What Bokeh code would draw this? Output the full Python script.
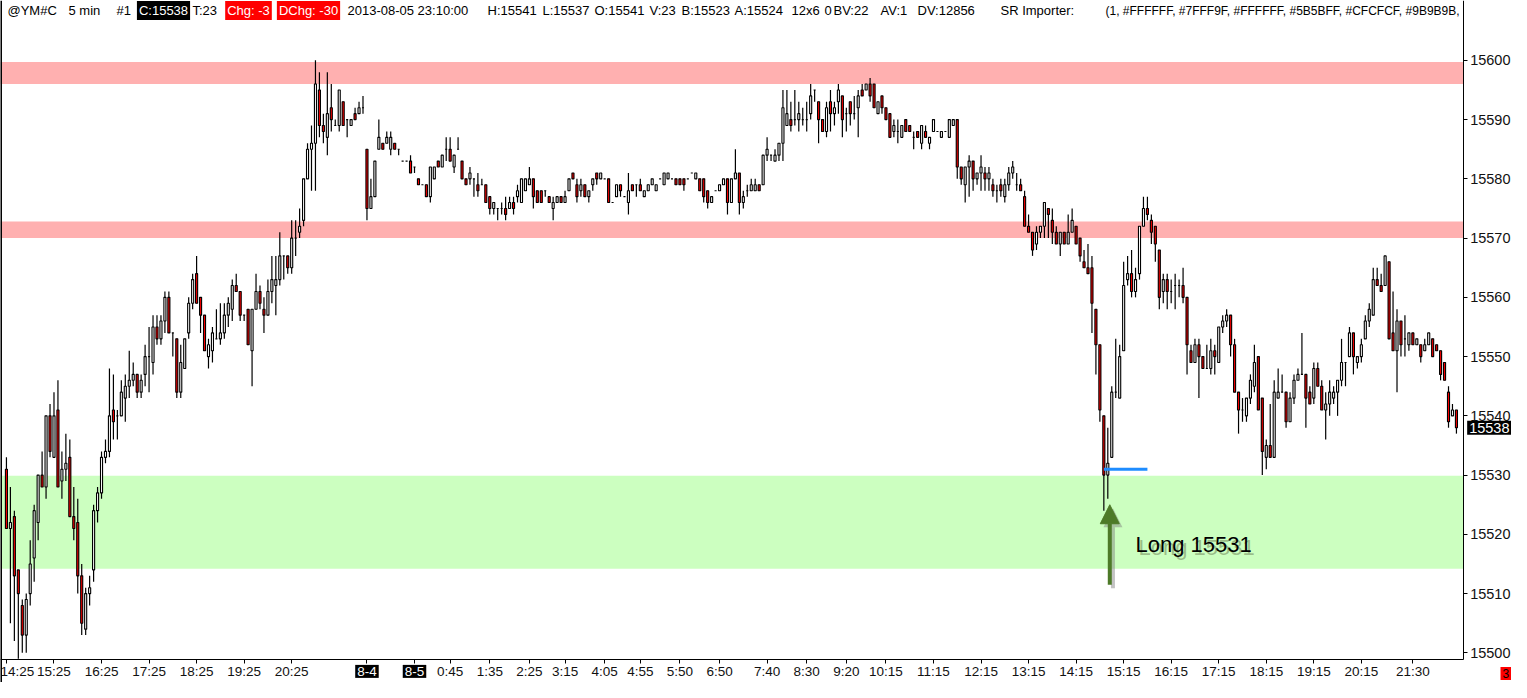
from bokeh.plotting import figure
from bokeh.models import (ColumnDataSource, BoxAnnotation, Label, Arrow, NormalHead,
                          FixedTicker, Range1d, Span)
from bokeh.embed import file_html
from bokeh.resources import INLINE

# ---------------- data (5-min bars, @YM#C) ----------------
opens = [
    15531, 15521, 15523, 15514, 15508, 15503, 15510, 15516, 15522, 15530,
    15528, 15540, 15533, 15541, 15529, 15531, 15533, 15523, 15522, 15513,
    15504, 15510, 15514, 15524, 15527, 15533, 15534, 15541, 15540, 15540,
    15543, 15545, 15546, 15547, 15544, 15547, 15550, 15549, 15555, 15553,
    15556, 15560, 15554, 15553, 15544, 15548, 15554, 15559, 15564, 15560,
    15557, 15550, 15551, 15553, 15553, 15554, 15557, 15558, 15562, 15561,
    15557, 15558, 15551, 15558, 15561, 15558, 15557, 15561, 15562, 15563,
    15567, 15567, 15565, 15570, 15571, 15573, 15580, 15585, 15586, 15595,
    15589, 15587, 15592, 15589, 15589, 15593, 15590, 15589, 15591, 15591,
    15592, 15585, 15575, 15577, 15585, 15586, 15586, 15585, 15586, 15585,
    15583, 15583, 15583, 15582, 15580, 15579, 15579, 15577, 15580, 15583,
    15582, 15585, 15585, 15582, 15585, 15583, 15580, 15580, 15580, 15579,
    15579, 15579, 15577, 15575, 15575, 15575, 15575, 15575, 15576, 15577,
    15576, 15578, 15579, 15580, 15578, 15578, 15578, 15577, 15575, 15576,
    15577, 15576, 15578, 15581, 15579, 15578, 15579, 15577, 15579, 15581,
    15580, 15580, 15580, 15576, 15577, 15579, 15577, 15576, 15579, 15579,
    15579, 15577, 15578, 15579, 15578, 15580, 15579, 15580, 15580, 15580,
    15580, 15580, 15580, 15581, 15580, 15580, 15580, 15578, 15576, 15578,
    15578, 15579, 15580, 15576, 15580, 15581, 15576, 15578, 15578, 15578,
    15579, 15579, 15584, 15584, 15583, 15584, 15586, 15589, 15590, 15590,
    15590, 15590, 15590, 15591, 15595, 15593, 15590, 15588, 15593, 15591,
    15593, 15594, 15591, 15593, 15591, 15592, 15595, 15595, 15596, 15596,
    15591, 15594, 15592, 15591, 15588, 15588, 15587, 15590, 15589, 15587,
    15588, 15586, 15588, 15586, 15588, 15588, 15587, 15588, 15587, 15589,
    15590, 15582, 15579, 15582, 15583, 15580, 15581, 15581, 15580, 15579,
    15578, 15579, 15577, 15579, 15581, 15579, 15579, 15577, 15572, 15571,
    15569, 15571, 15572, 15575, 15573, 15571, 15569, 15571, 15569, 15571,
    15572, 15570, 15566, 15565, 15565, 15558, 15552, 15540, 15530, 15533,
    15544, 15543, 15551, 15563, 15564, 15561, 15564, 15572, 15575, 15573,
    15572, 15568, 15561, 15563, 15561, 15562, 15562, 15562, 15560, 15551,
    15549, 15552, 15550, 15548, 15548, 15551, 15549, 15555, 15556, 15557,
    15552, 15544, 15541, 15540, 15543, 15545, 15550, 15543, 15533, 15535,
    15533, 15543, 15544, 15544, 15539, 15543, 15546, 15547, 15547, 15544,
    15543, 15548, 15545, 15541, 15542, 15543, 15544, 15546, 15549, 15550,
    15554, 15549, 15550, 15553, 15556, 15557, 15563, 15562, 15562, 15566,
    15554, 15551, 15556, 15553, 15552, 15554, 15552, 15552, 15551, 15552,
    15553, 15552, 15551, 15549, 15544, 15540, 15541,
]
highs = [
    15533, 15528, 15524, 15514, 15509, 15510, 15519, 15525, 15530, 15534,
    15540, 15542, 15544, 15546, 15534, 15537, 15536, 15528, 15526, 15515,
    15511, 15513, 15525, 15528, 15534, 15536, 15548, 15547, 15541, 15546,
    15547, 15551, 15549, 15547, 15547, 15552, 15555, 15557, 15557, 15557,
    15561, 15561, 15554, 15553, 15552, 15553, 15560, 15564, 15567, 15560,
    15557, 15553, 15555, 15558, 15559, 15559, 15560, 15563, 15564, 15561,
    15557, 15558, 15558, 15564, 15562, 15560, 15563, 15567, 15567, 15571,
    15567, 15567, 15573, 15573, 15575, 15580, 15586, 15589, 15600, 15598,
    15591, 15598, 15596, 15590, 15595, 15593, 15590, 15590, 15592, 15593,
    15594, 15585, 15580, 15583, 15590, 15586, 15588, 15588, 15586, 15585,
    15583, 15583, 15584, 15582, 15580, 15579, 15579, 15582, 15582, 15583,
    15584, 15587, 15587, 15584, 15587, 15583, 15580, 15582, 15580, 15581,
    15580, 15579, 15577, 15576, 15575, 15576, 15577, 15577, 15577, 15579,
    15580, 15580, 15582, 15580, 15578, 15578, 15578, 15577, 15577, 15577,
    15577, 15578, 15580, 15581, 15580, 15580, 15579, 15578, 15580, 15581,
    15581, 15580, 15580, 15576, 15579, 15579, 15577, 15581, 15579, 15579,
    15580, 15578, 15579, 15580, 15579, 15580, 15581, 15581, 15580, 15580,
    15580, 15580, 15580, 15581, 15581, 15580, 15580, 15578, 15577, 15578,
    15579, 15580, 15580, 15580, 15585, 15581, 15578, 15579, 15580, 15580,
    15579, 15584, 15587, 15584, 15585, 15586, 15595, 15595, 15593, 15595,
    15593, 15592, 15593, 15596, 15595, 15593, 15590, 15593, 15595, 15593,
    15596, 15594, 15592, 15593, 15594, 15595, 15596, 15596, 15597, 15596,
    15593, 15594, 15592, 15591, 15590, 15590, 15589, 15590, 15589, 15588,
    15588, 15589, 15589, 15587, 15590, 15588, 15588, 15588, 15590, 15590,
    15590, 15582, 15582, 15584, 15583, 15581, 15584, 15582, 15582, 15580,
    15579, 15580, 15580, 15582, 15583, 15581, 15580, 15578, 15574, 15571,
    15572, 15572, 15576, 15575, 15575, 15572, 15571, 15571, 15574, 15575,
    15572, 15570, 15568, 15569, 15567, 15558, 15552, 15540, 15538, 15545,
    15553, 15552, 15566, 15567, 15568, 15565, 15572, 15577, 15577, 15574,
    15572, 15568, 15564, 15564, 15563, 15564, 15563, 15565, 15560, 15552,
    15553, 15553, 15550, 15552, 15553, 15552, 15555, 15557, 15558, 15557,
    15553, 15544, 15543, 15543, 15547, 15552, 15550, 15543, 15536, 15542,
    15546, 15548, 15547, 15544, 15544, 15547, 15548, 15554, 15547, 15545,
    15549, 15549, 15546, 15544, 15546, 15545, 15546, 15553, 15549, 15555,
    15554, 15550, 15553, 15557, 15559, 15565, 15565, 15564, 15567, 15566,
    15561, 15558, 15556, 15557, 15554, 15554, 15553, 15552, 15553, 15554,
    15553, 15552, 15551, 15549, 15545, 15542, 15541,
]
lows = [
    15521, 15505, 15502, 15499, 15500, 15500, 15508, 15512, 15519, 15528,
    15526, 15533, 15533, 15528, 15526, 15529, 15523, 15519, 15510, 15503,
    15503, 15508, 15512, 15522, 15526, 15532, 15533, 15536, 15536, 15540,
    15539, 15543, 15545, 15543, 15543, 15545, 15544, 15547, 15552, 15552,
    15554, 15554, 15550, 15543, 15543, 15548, 15553, 15558, 15559, 15554,
    15551, 15548, 15549, 15553, 15552, 15553, 15555, 15556, 15561, 15556,
    15556, 15552, 15545, 15558, 15558, 15554, 15557, 15559, 15557, 15562,
    15563, 15564, 15564, 15567, 15570, 15572, 15580, 15578, 15578, 15587,
    15586, 15584, 15588, 15589, 15588, 15589, 15587, 15589, 15590, 15591,
    15591, 15573, 15575, 15577, 15585, 15585, 15586, 15584, 15585, 15584,
    15583, 15583, 15581, 15581, 15579, 15579, 15577, 15576, 15580, 15582,
    15582, 15583, 15583, 15581, 15585, 15580, 15579, 15579, 15577, 15577,
    15579, 15576, 15574, 15574, 15573, 15574, 15573, 15575, 15574, 15576,
    15576, 15578, 15579, 15575, 15576, 15576, 15577, 15576, 15573, 15576,
    15576, 15576, 15578, 15580, 15576, 15577, 15577, 15576, 15578, 15579,
    15580, 15580, 15576, 15576, 15577, 15577, 15577, 15574, 15578, 15577,
    15578, 15577, 15578, 15579, 15578, 15580, 15579, 15580, 15580, 15579,
    15579, 15578, 15580, 15581, 15580, 15578, 15576, 15575, 15576, 15578,
    15578, 15579, 15574, 15576, 15580, 15574, 15575, 15577, 15578, 15578,
    15578, 15579, 15583, 15583, 15583, 15583, 15583, 15589, 15588, 15589,
    15588, 15589, 15588, 15590, 15593, 15586, 15588, 15587, 15588, 15589,
    15591, 15587, 15588, 15589, 15590, 15587, 15594, 15595, 15593, 15592,
    15591, 15591, 15590, 15587, 15587, 15586, 15587, 15588, 15588, 15585,
    15587, 15585, 15587, 15585, 15588, 15588, 15587, 15588, 15587, 15589,
    15580, 15579, 15576, 15577, 15578, 15579, 15578, 15578, 15578, 15577,
    15576, 15577, 15576, 15578, 15580, 15578, 15578, 15572, 15571, 15567,
    15568, 15570, 15570, 15570, 15569, 15569, 15567, 15569, 15569, 15571,
    15569, 15566, 15565, 15564, 15554, 15547, 15539, 15524, 15526, 15533,
    15543, 15543, 15551, 15562, 15560, 15560, 15563, 15572, 15573, 15569,
    15566, 15558, 15559, 15558, 15559, 15558, 15560, 15559, 15547, 15549,
    15549, 15543, 15548, 15548, 15547, 15547, 15549, 15554, 15555, 15550,
    15544, 15537, 15539, 15539, 15542, 15544, 15541, 15530, 15531, 15533,
    15533, 15543, 15544, 15538, 15539, 15542, 15546, 15547, 15538, 15542,
    15542, 15545, 15541, 15536, 15540, 15542, 15540, 15545, 15545, 15550,
    15547, 15548, 15549, 15553, 15555, 15557, 15562, 15561, 15562, 15553,
    15551, 15544, 15550, 15550, 15551, 15552, 15552, 15549, 15551, 15552,
    15550, 15551, 15546, 15546, 15538, 15540, 15537,
]
closes = [
    15521, 15522, 15513, 15510, 15503, 15509, 15515, 15524, 15530, 15528,
    15540, 15534, 15540, 15528, 15531, 15532, 15523, 15521, 15513, 15505,
    15510, 15511, 15524, 15527, 15533, 15534, 15540, 15539, 15540, 15544,
    15545, 15546, 15547, 15544, 15546, 15550, 15550, 15555, 15553, 15556,
    15560, 15554, 15554, 15544, 15549, 15553, 15559, 15563, 15559, 15557,
    15551, 15552, 15554, 15553, 15554, 15557, 15559, 15562, 15561, 15557,
    15557, 15552, 15558, 15561, 15559, 15557, 15561, 15563, 15563, 15567,
    15567, 15565, 15570, 15570, 15572, 15580, 15585, 15586, 15596, 15589,
    15588, 15591, 15590, 15589, 15595, 15589, 15590, 15590, 15590, 15592,
    15592, 15575, 15577, 15583, 15587, 15585, 15587, 15587, 15585, 15585,
    15583, 15583, 15581, 15582, 15579, 15579, 15577, 15582, 15582, 15582,
    15584, 15585, 15583, 15584, 15585, 15580, 15579, 15581, 15580, 15578,
    15579, 15576, 15575, 15576, 15575, 15575, 15574, 15576, 15575, 15578,
    15580, 15580, 15580, 15577, 15576, 15576, 15578, 15576, 15576, 15577,
    15576, 15577, 15580, 15580, 15577, 15579, 15577, 15578, 15580, 15580,
    15581, 15580, 15576, 15576, 15579, 15578, 15577, 15578, 15578, 15579,
    15578, 15578, 15579, 15580, 15579, 15580, 15581, 15581, 15580, 15579,
    15579, 15579, 15580, 15581, 15581, 15578, 15577, 15576, 15577, 15578,
    15579, 15580, 15576, 15580, 15581, 15576, 15577, 15578, 15579, 15579,
    15578, 15584, 15585, 15584, 15584, 15586, 15592, 15591, 15589, 15590,
    15591, 15590, 15590, 15594, 15595, 15590, 15588, 15592, 15591, 15592,
    15595, 15590, 15591, 15591, 15591, 15594, 15594, 15596, 15594, 15592,
    15593, 15592, 15590, 15587, 15589, 15588, 15589, 15588, 15588, 15587,
    15587, 15589, 15587, 15587, 15590, 15588, 15588, 15588, 15590, 15590,
    15582, 15580, 15582, 15583, 15580, 15581, 15582, 15580, 15581, 15578,
    15578, 15578, 15579, 15581, 15582, 15579, 15578, 15572, 15571, 15568,
    15571, 15572, 15576, 15574, 15571, 15569, 15571, 15569, 15571, 15573,
    15569, 15567, 15565, 15564, 15559, 15552, 15541, 15530, 15532, 15544,
    15544, 15550, 15562, 15564, 15561, 15563, 15572, 15575, 15574, 15571,
    15569, 15560, 15563, 15561, 15561, 15562, 15562, 15560, 15552, 15549,
    15552, 15550, 15548, 15548, 15551, 15550, 15555, 15556, 15557, 15552,
    15544, 15541, 15541, 15543, 15546, 15549, 15541, 15534, 15535, 15533,
    15544, 15544, 15544, 15539, 15543, 15546, 15547, 15547, 15543, 15542,
    15548, 15545, 15541, 15542, 15544, 15544, 15546, 15549, 15549, 15554,
    15550, 15550, 15552, 15556, 15558, 15563, 15562, 15561, 15567, 15553,
    15551, 15556, 15552, 15553, 15554, 15552, 15553, 15550, 15552, 15554,
    15550, 15551, 15547, 15546, 15539, 15541, 15538,
]

tick_bars = [0, 12, 24, 36, 48, 60, 72, 91, 103, 112, 122, 132, 141, 151, 160,
             170, 180, 192, 202, 212, 222, 234, 246, 258, 270, 282, 294, 306,
             318, 330, 342, 355]
tick_labels = ["14:25", "15:25", "16:25", "17:25", "18:25", "19:25", "20:25",
               "8-4", "8-5", "0:45", "1:35", "2:25", "3:15", "4:05", "4:55",
               "5:50", "6:50", "7:40", "8:30", "9:20", "10:15", "11:15",
               "12:15", "13:15", "14:15", "15:15", "16:15", "17:15", "18:15",
               "19:15", "20:15", "21:30"]
date_labels = ["8-4", "8-5"]
price_ticks = [15500, 15510, 15520, 15530, 15540, 15550, 15560, 15570, 15580, 15590, 15600]

resistance_zones = [(15596.0, 15599.7), (15570.0, 15572.8)]
support_zones = [(15514.2, 15529.9)]

entry_price = 15531
entry_bar = 277
entry_line_end = 288
last_price = 15538
note_text = "Long 15531"

# ---------------- layout constants ----------------
# full canvas is the frame; the axes are drawn at fixed positions inside it
X0, X_AXIS, X1 = -1.5, 367.7, 379.9
Y0, Y_AXIS, Y1 = 15495.0, 15498.9, 15610.1
FONT = "Liberation Sans"

n = min(len(opens), len(highs), len(lows), len(closes))
idx = list(range(n))
src = ColumnDataSource(dict(
    x=idx,
    h=highs[:n], l=lows[:n],
    top=[max(o, c) for o, c in zip(opens[:n], closes[:n])],
    bottom=[min(o, c) for o, c in zip(opens[:n], closes[:n])],
    fill=["white" if c >= o else "#ff0000" for o, c in zip(opens[:n], closes[:n])],
))

p = figure(width=1511, height=682, output_backend="svg", toolbar_location=None,
           x_range=Range1d(X0, X1), y_range=Range1d(Y0, Y1),
           y_axis_location="right", min_border_left=0, min_border_top=0,
           min_border_bottom=0, min_border_right=0)
p.background_fill_color = "white"
p.border_fill_color = "white"
p.outline_line_color = None
p.xgrid.visible = False
p.ygrid.visible = False

# zones (end at the price axis)
for b, t in resistance_zones:
    p.add_layout(BoxAnnotation(bottom=b, top=t, right=X_AXIS, fill_color="#ffb0b0",
                               fill_alpha=1.0, line_color=None, level="underlay"))
for b, t in support_zones:
    p.add_layout(BoxAnnotation(bottom=b, top=t, right=X_AXIS, fill_color="#ccffc0",
                               fill_alpha=1.0, line_color=None, level="underlay"))

# left border of the chart area
p.add_layout(Span(location=X0, dimension="height", line_color="black", line_width=3))

# candles
p.segment(x0="x", y0="l", x1="x", y1="h", source=src, line_color="black", line_width=1.2)
p.vbar(x="x", width=0.52, top="top", bottom="bottom", source=src,
       fill_color="fill", line_color="black", line_width=1.1)

# entry line
p.segment(x0=[entry_bar], y0=[entry_price], x1=[entry_line_end], y1=[entry_price],
          line_color="#1e8cff", line_width=3)

# arrow (shadow + arrow)
arrow_x = entry_bar + 1.5
arrow_tip = 15525.0
arrow_tail = 15511.5
p.add_layout(Arrow(end=NormalHead(size=19, fill_color="#7a7a7a", fill_alpha=0.45, line_color=None),
                   x_start=arrow_x + 0.8, y_start=arrow_tail - 0.6,
                   x_end=arrow_x + 0.8, y_end=arrow_tip - 0.6,
                   line_color="#7a7a7a", line_alpha=0.45, line_width=4))
p.add_layout(Arrow(end=NormalHead(size=19, fill_color="#4d7a28", line_color="#4d7a28", line_width=1),
                   x_start=arrow_x, y_start=arrow_tail, x_end=arrow_x, y_end=arrow_tip,
                   line_color="#4d7a28", line_width=4))

# note text with shadow
note_x = entry_bar + 8
note_y = 15518.3
p.add_layout(Label(x=note_x, y=note_y, x_offset=3, y_offset=-3, text=note_text,
                   text_font=FONT, text_font_size="22px", text_baseline="middle",
                   text_color="#5a6a40", text_alpha=0.45))
p.add_layout(Label(x=note_x, y=note_y, text=note_text, text_font=FONT,
                   text_font_size="22px", text_baseline="middle", text_color="black"))

# axes at fixed positions
p.yaxis.fixed_location = X_AXIS
p.yaxis.bounds = (Y_AXIS, Y1)
p.yaxis.axis_label = None
p.yaxis.ticker = FixedTicker(ticks=price_ticks)
p.yaxis.major_label_text_font = FONT
p.yaxis.major_label_text_font_size = "14.5px"
p.yaxis.major_label_text_color = "#111111"
p.yaxis.major_tick_out = 4
p.yaxis.major_tick_in = 0
p.yaxis.minor_tick_out = 0
p.yaxis.minor_tick_in = 0
p.yaxis.major_label_standoff = 3
p.yaxis.axis_line_color = "black"

p.xaxis.fixed_location = Y_AXIS
p.xaxis.bounds = (X0, X_AXIS)
p.xaxis.axis_label = None
p.xaxis.ticker = FixedTicker(ticks=tick_bars)
p.xaxis.major_label_overrides = {b: ("" if lbl in date_labels else lbl)
                                 for b, lbl in zip(tick_bars, tick_labels)}
p.xaxis.major_label_text_font = FONT
p.xaxis.major_label_text_font_size = "13.5px"
p.xaxis.major_label_text_color = "#111111"
p.xaxis.major_tick_out = 4
p.xaxis.major_tick_in = 0
p.xaxis.minor_tick_out = 0
p.xaxis.minor_tick_in = 0
p.xaxis.major_label_standoff = 1
p.xaxis.axis_line_color = "black"

# boxed date labels on the time axis
for b, lbl in zip(tick_bars, tick_labels):
    if lbl in date_labels:
        p.add_layout(Label(x=b, y=Y_AXIS, y_offset=-12, text=lbl, text_font=FONT,
                           text_font_size="13.5px", text_align="center",
                           text_baseline="middle", text_color="white",
                           background_fill_color="black", padding=2))

# last price marker on price axis
p.add_layout(Label(x=X_AXIS, y=last_price, x_offset=4, text=str(last_price),
                   text_font=FONT, text_font_size="14.5px", text_baseline="middle",
                   text_color="white", background_fill_color="black", padding=2))

# small red box in the corner
p.add_layout(Label(x=X1, y=Y0, x_offset=-11, y_offset=9, text="3",
                   text_font=FONT, text_font_size="12px", text_baseline="middle",
                   text_color="black", background_fill_color="#ff0000", padding=2))

# header line
header_plain = [("@YM#C", 7), ("5 min", 68), ("#1", 116), ("T:23", 192),
                ("2013-08-05 23:10:00", 347), ("H:15541", 487), ("L:15537", 542),
                ("O:15541", 594), ("V:23", 649), ("B:15523", 681), ("A:15524", 734),
                ("12x6", 791), ("0", 824), ("BV:22", 833), ("AV:1", 880),
                ("DV:12856", 917), ("SR Importer:", 1000)]
for txt, px in header_plain:
    p.add_layout(Label(x=px, x_units="screen", y=Y1, y_offset=-10, text=txt,
                       text_font=FONT, text_font_size="13px", text_baseline="middle",
                       text_color="black"))
p.add_layout(Label(x=1105, x_units="screen", y=Y1, y_offset=-10,
                   text="(1, #FFFFFF, #7FFF9F, #FFFFFF, #5B5BFF, #CFCFCF, #9B9B9B,",
                   text_font=FONT, text_font_size="12px", text_baseline="middle",
                   text_color="black"))
header_boxes = [("C:15538", 163, "black"), ("Chg: -3", 248, "#ff0000"),
                ("DChg: -30", 308, "#ff0000")]
for txt, cx, bg in header_boxes:
    p.add_layout(Label(x=cx, x_units="screen", y=Y1, y_offset=-10, text=txt,
                       text_font=FONT, text_font_size="13px", text_baseline="middle",
                       text_align="center", text_color="white",
                       background_fill_color=bg, padding=2))

open("out.html", "w").write(file_html(p, INLINE))
